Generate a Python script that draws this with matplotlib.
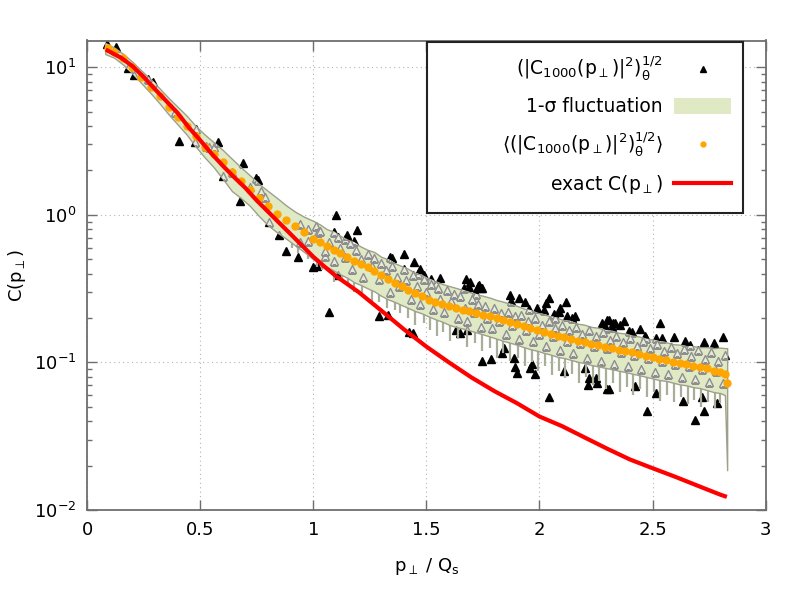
import matplotlib

matplotlib.use("Agg")
import matplotlib.pyplot as plt
import numpy as np
from matplotlib.lines import Line2D
from matplotlib.patches import Patch, Rectangle
from matplotlib.ticker import FormatStrFormatter, LogLocator, NullFormatter

# exact C(p_perp)
exact_x = [0.09, 0.15, 0.2, 0.25, 0.3, 0.35, 0.4, 0.45, 0.5, 0.55, 0.6, 0.65, 0.7, 0.75,
           0.8, 0.85, 0.9, 0.95, 1.0, 1.05, 1.1, 1.2, 1.3, 1.4, 1.5, 1.6, 1.7, 1.8, 1.9,
           2.0, 2.1, 2.2, 2.3, 2.4, 2.5, 2.6, 2.7, 2.8, 2.82]
exact_c = [13.0, 11.6, 10.2, 8.6, 7.1, 5.9, 4.9, 3.9, 3.2, 2.6, 2.15, 1.8, 1.52, 1.25,
           1.05, 0.88, 0.74, 0.62, 0.52, 0.445, 0.385, 0.30, 0.225, 0.168, 0.128, 0.1,
           0.079, 0.064, 0.053, 0.043, 0.037, 0.031, 0.026, 0.022, 0.0192, 0.0168, 0.0146,
           0.0127, 0.0124]

# mean over configurations
mean_x = [0.09, 0.12, 0.16, 0.2, 0.24, 0.28, 0.32, 0.36, 0.4, 0.44, 0.48, 0.52, 0.56, 0.6,
          0.64, 0.68, 0.72, 0.76, 0.8, 0.84, 0.88, 0.92, 0.96,
          1.00, 1.03, 1.06, 1.09, 1.12, 1.15, 1.18, 1.21, 1.24, 1.27, 1.30, 1.33, 1.36,
          1.39, 1.42, 1.45, 1.48, 1.51, 1.54, 1.57, 1.60, 1.63, 1.66, 1.69, 1.72, 1.75,
          1.78, 1.81, 1.84, 1.87, 1.90, 1.93, 1.96, 1.99, 2.02, 2.05, 2.08, 2.11, 2.14,
          2.17, 2.20, 2.23, 2.26, 2.29, 2.32, 2.35, 2.38, 2.41, 2.44, 2.47, 2.50, 2.53,
          2.56, 2.59, 2.62, 2.65, 2.68, 2.71, 2.74, 2.77, 2.80, 2.82, 2.83]
mean_c = [13.5, 12.8, 11.5, 10.0, 8.6, 7.4, 6.4, 5.4, 4.6, 4.0, 3.4, 2.9, 2.6, 2.3,
          1.95, 1.7, 1.48, 1.30, 1.15, 1.02, 0.92, 0.84, 0.76,
          0.690, 0.650, 0.615, 0.580, 0.548, 0.518, 0.485, 0.462, 0.440, 0.418, 0.390,
          0.368, 0.348, 0.330, 0.312, 0.296, 0.280, 0.266, 0.256, 0.247, 0.240, 0.233,
          0.227, 0.222, 0.216, 0.211, 0.205, 0.200, 0.195, 0.189, 0.183, 0.177, 0.171,
          0.166, 0.161, 0.157, 0.152, 0.148, 0.144, 0.140, 0.137, 0.134, 0.131, 0.128,
          0.125, 0.122, 0.119, 0.117, 0.114, 0.111, 0.109, 0.106, 0.104, 0.101, 0.099,
          0.097, 0.095, 0.093, 0.091, 0.088, 0.086, 0.084, 0.073]

# 1-sigma band
band_x = [0.08, 0.12, 0.16, 0.20, 0.24, 0.28, 0.32, 0.36, 0.40, 0.44, 0.48, 0.52, 0.56,
          0.60, 0.64, 0.68, 0.72, 0.76, 0.80, 0.84, 0.88, 0.92, 0.96,
          1.00, 1.03, 1.06, 1.09, 1.12, 1.15, 1.18, 1.21, 1.24, 1.27, 1.30, 1.33, 1.36,
          1.39, 1.42, 1.45, 1.48, 1.51, 1.54, 1.57, 1.60, 1.63, 1.66, 1.69, 1.72, 1.75,
          1.78, 1.81, 1.84, 1.87, 1.90, 1.93, 1.96, 1.99, 2.02, 2.05, 2.08, 2.11, 2.14,
          2.17, 2.20, 2.23, 2.26, 2.29, 2.32, 2.35, 2.38, 2.41, 2.44, 2.47, 2.50, 2.53,
          2.56, 2.59, 2.62, 2.65, 2.68, 2.71, 2.74, 2.77, 2.80, 2.82, 2.83]
band_hi = [14.6, 13.6, 12.3, 10.9, 9.5, 8.3, 7.2, 6.2, 5.4, 4.7, 4.0, 3.5, 3.1,
           2.75, 2.4, 2.1, 1.85, 1.62, 1.45, 1.30, 1.16, 1.05, 0.97,
           0.91, 0.86, 0.80, 0.77, 0.72, 0.68, 0.65, 0.61, 0.58, 0.56, 0.52, 0.50, 0.47,
           0.45, 0.43, 0.405, 0.39, 0.37, 0.355, 0.34, 0.33, 0.32, 0.31, 0.30, 0.29, 0.283,
           0.275, 0.265, 0.258, 0.25, 0.242, 0.232, 0.226, 0.217, 0.212, 0.205, 0.20, 0.193,
           0.19, 0.183, 0.18, 0.174, 0.172, 0.166, 0.164, 0.159, 0.157, 0.152, 0.15,
           0.145, 0.143, 0.139, 0.137, 0.133, 0.132, 0.129, 0.129, 0.127, 0.127, 0.125,
           0.126, 0.125, 0.125]
band_lo = [12.3, 11.6, 10.4, 9.1, 7.8, 6.7, 5.7, 4.8, 4.1, 3.5, 2.9, 2.45, 2.1,
           1.75, 1.45, 1.3, 1.15, 0.98, 0.85, 0.76, 0.69, 0.62, 0.56,
           0.50, 0.47, 0.445, 0.42, 0.395, 0.375, 0.35, 0.335, 0.318, 0.303, 0.283, 0.268,
           0.257, 0.245, 0.234, 0.223, 0.215, 0.205, 0.196, 0.189, 0.18, 0.174, 0.17,
           0.165, 0.16, 0.155, 0.15, 0.145, 0.14, 0.136, 0.132, 0.127, 0.123, 0.12, 0.116,
           0.113, 0.109, 0.107, 0.104, 0.101, 0.099, 0.096, 0.094, 0.092, 0.09, 0.088,
           0.086, 0.084, 0.082, 0.08, 0.078, 0.076, 0.075, 0.073, 0.071, 0.07, 0.068,
           0.067, 0.065, 0.063, 0.062, 0.06, 0.0186]

# downward spikes of the band's lower edge
spike_x = [0.905, 0.93, 0.975, 1.015, 1.04, 1.09, 1.125, 1.155, 1.178, 1.215, 1.259,
           1.29, 1.326, 1.36, 1.385, 1.42, 1.451, 1.49, 1.515, 1.547, 1.575, 1.606, 1.64,
           1.68, 1.715, 1.746, 1.78, 1.812, 1.84, 1.87, 1.905, 1.935, 1.965, 1.995, 2.025,
           2.055, 2.085, 2.115, 2.145, 2.175, 2.205, 2.235, 2.265, 2.295, 2.325, 2.355,
           2.385, 2.415, 2.445, 2.475, 2.505, 2.535, 2.565, 2.595, 2.625, 2.655, 2.685,
           2.715, 2.745, 2.775, 2.80]
spike_c = [0.60, 0.55, 0.50, 0.44, 0.42, 0.35, 0.35, 0.33, 0.30, 0.29, 0.26,
           0.255, 0.235, 0.225, 0.215, 0.20, 0.18, 0.185, 0.165, 0.15, 0.16, 0.14, 0.145,
           0.128, 0.135, 0.12, 0.125, 0.108, 0.115, 0.102, 0.108, 0.095, 0.10, 0.087, 0.095,
           0.082, 0.088, 0.078, 0.083, 0.072, 0.08, 0.07, 0.075, 0.066, 0.072, 0.063,
           0.068, 0.06, 0.066, 0.058, 0.063, 0.055, 0.06, 0.054, 0.058, 0.052, 0.056,
           0.05, 0.054, 0.049, 0.053]

# single configuration samples
sample_x = [0.088, 0.128, 0.18, 0.207, 0.27, 0.29, 0.39, 0.404, 0.475, 0.48, 0.525, 0.54,
            0.56, 0.578, 0.60, 0.64, 0.676, 0.691, 0.72, 0.747, 0.757, 0.77, 0.785, 0.806,
            0.85, 0.879, 0.93, 0.94, 0.94, 0.975, 0.975, 1.00, 1.01, 1.015, 1.02, 1.05,
            1.07, 1.09, 1.10, 1.107, 1.14, 1.148, 1.18, 1.195, 1.29, 1.33, 1.34, 1.35,
            1.40, 1.423, 1.44, 1.445, 1.465, 1.47, 1.49, 1.52, 1.56, 1.63, 1.65, 1.666,
            1.673, 1.68, 1.69, 1.695, 1.713, 1.72, 1.73, 1.732, 1.74, 1.747, 1.747, 1.786,
            1.835, 1.845, 1.869, 1.872, 1.886, 1.89, 1.90, 1.908, 1.938, 1.953, 1.96, 1.967,
            1.98, 1.99, 2.02, 2.03, 2.04, 2.04, 2.066, 2.07, 2.085, 2.092, 2.11, 2.119,
            2.122, 2.144, 2.158, 2.203, 2.213, 2.22, 2.25, 2.254, 2.276, 2.295, 2.298,
            2.30, 2.306, 2.306, 2.32, 2.327, 2.335, 2.357, 2.375, 2.394, 2.409, 2.423,
            2.443, 2.467, 2.472, 2.475, 2.516, 2.516, 2.533, 2.541, 2.593, 2.636, 2.644,
            2.666, 2.687, 2.717, 2.727, 2.728, 2.77, 2.783, 2.81,
            1.03, 1.05, 1.07, 1.09, 1.11, 1.12, 1.14, 1.16, 1.17, 1.19, 1.21, 1.22, 1.24,
            1.26, 1.27, 1.29, 1.30, 1.32, 1.34, 1.35, 1.37, 1.38, 1.40, 1.41, 1.43, 1.44,
            1.46, 1.47, 1.49, 1.50, 1.52, 1.53, 1.55, 1.56, 1.58, 1.59, 1.61, 1.62, 1.64,
            1.65, 1.67, 1.68, 1.70, 1.71, 1.73, 1.74, 1.76, 1.77, 1.79, 1.80, 1.82, 1.83,
            1.85, 1.86, 1.88, 1.89, 1.91, 1.92, 1.94, 1.95, 1.97, 1.98, 2.00, 2.01, 2.03,
            2.04, 2.06, 2.07, 2.09, 2.10, 2.12, 2.13, 2.15, 2.16, 2.18, 2.19, 2.21, 2.22,
            2.24, 2.25, 2.27, 2.28, 2.30, 2.31, 2.33, 2.34, 2.36, 2.37, 2.39, 2.40, 2.42,
            2.43, 2.45, 2.46, 2.48, 2.49, 2.51, 2.52, 2.54, 2.55, 2.57, 2.58, 2.60, 2.61,
            2.63, 2.64, 2.66, 2.67, 2.69, 2.70, 2.72, 2.73, 2.75, 2.76, 2.78, 2.79, 2.81,
            2.82]
sample_c = [14.4, 13.7, 9.9, 8.9, 8.4, 7.9, 5.0, 3.17, 3.1, 3.8, 2.92, 2.9,
            2.87, 3.12, 1.84, 1.95, 1.25, 2.24, 1.54, 1.79, 1.73, 1.45, 1.32, 0.90,
            0.73, 0.57, 0.52, 0.87, 0.66, 0.80, 0.67, 0.44, 0.84, 0.45, 0.77, 0.53,
            0.22, 0.77, 1.0, 0.39, 0.69, 0.73, 0.67, 0.79, 0.205, 0.21, 0.52, 0.51,
            0.54, 0.16, 0.158, 0.48, 0.40, 0.43, 0.39, 0.37, 0.375, 0.166, 0.158, 0.32,
            0.365, 0.166, 0.326, 0.352, 0.297, 0.29, 0.33, 0.334, 0.318, 0.318, 0.103, 0.105,
            0.116, 0.125, 0.286, 0.261, 0.107, 0.093, 0.085, 0.275, 0.258, 0.230, 0.092, 0.098,
            0.083, 0.233, 0.227, 0.254, 0.275, 0.058, 0.212, 0.201, 0.221, 0.235, 0.087, 0.255,
            0.205, 0.20, 0.205, 0.092, 0.070, 0.079, 0.079, 0.072, 0.185, 0.171, 0.194,
            0.066, 0.194, 0.066, 0.173, 0.185, 0.185, 0.178, 0.191, 0.164, 0.160, 0.069,
            0.168, 0.150, 0.146, 0.047, 0.146, 0.062, 0.185, 0.146, 0.148, 0.055, 0.139,
            0.131, 0.041, 0.058, 0.047, 0.137, 0.135, 0.053, 0.148,
            0.78, 0.57, 0.66, 0.49, 0.71, 0.60, 0.52, 0.64, 0.43, 0.58, 0.50, 0.38, 0.54,
            0.45, 0.51, 0.37, 0.47, 0.42, 0.30, 0.45, 0.38, 0.33, 0.43, 0.36, 0.27, 0.39,
            0.33, 0.25, 0.37, 0.30, 0.34, 0.23, 0.32, 0.27, 0.22, 0.31, 0.26, 0.29, 0.20,
            0.28, 0.235, 0.19, 0.27, 0.22, 0.25, 0.175, 0.24, 0.20, 0.17, 0.235, 0.19, 0.215,
            0.155, 0.22, 0.18, 0.205, 0.145, 0.21, 0.165, 0.19, 0.14, 0.20, 0.155, 0.18, 0.13,
            0.19, 0.15, 0.17, 0.122, 0.18, 0.14, 0.165, 0.115, 0.175, 0.135, 0.155, 0.108,
            0.165, 0.13, 0.15, 0.102, 0.16, 0.125, 0.143, 0.097, 0.152, 0.118, 0.137, 0.094,
            0.146, 0.112, 0.13, 0.09, 0.14, 0.107, 0.125, 0.086, 0.134, 0.103, 0.12, 0.083,
            0.128, 0.098, 0.115, 0.08, 0.124, 0.094, 0.11, 0.077, 0.121, 0.09, 0.106, 0.074,
            0.118, 0.087, 0.103, 0.072, 0.112]

BAND_FACE = "#dfeac5"
BAND_EDGE = "#9da08c"
AXIS_GRAY = "#6e6e6e"

plt.rcParams["font.family"] = ["DejaVu Sans"]
plt.rcParams["mathtext.default"] = "regular"

fig = plt.figure(figsize=(8, 6), dpi=100)
ax = fig.add_axes([0.109, 0.15, 0.848, 0.7825])

ax.plot(sample_x, sample_c, linestyle="none", marker="^", markersize=6,
        color="black", zorder=2)
# spikes hang from inside the band down to their minimum
ax.vlines(spike_x, spike_c, np.interp(spike_x, mean_x, mean_c), color="#a9ae98",
          linewidth=1.6, zorder=2.5)
band = ax.fill_between(band_x, band_lo, band_hi, facecolor=BAND_FACE,
                       edgecolor=BAND_EDGE, linewidth=1.0, zorder=3)
# samples seen through the band
inner, = ax.plot(sample_x, sample_c, linestyle="none", marker="^", markersize=6,
                 markerfacecolor="#e7ecda", markeredgecolor="#8e8e8e",
                 markeredgewidth=1.0, zorder=4)
inner.set_clip_path(band.get_paths()[0], ax.transData)

ax.plot(mean_x, mean_c, linestyle="none", marker="o", markersize=6,
        color="#ffa500", markeredgewidth=0, zorder=5)
ax.plot(exact_x, exact_c, color="#ff0000", linewidth=3, zorder=6)

ax.set_yscale("log")
ax.set_xlim(0, 3)
ax.set_ylim(1e-2, 15.2)
ax.set_xticks([0, 0.5, 1, 1.5, 2, 2.5, 3])
ax.xaxis.set_major_formatter(FormatStrFormatter("%g"))
ax.yaxis.set_major_locator(LogLocator(base=10, numticks=10))
ax.yaxis.set_minor_locator(LogLocator(base=10, subs=range(2, 10), numticks=20))
ax.yaxis.set_minor_formatter(NullFormatter())
ax.tick_params(which="both", direction="in", top=True, right=True, labelsize=13,
               color=AXIS_GRAY, width=1.0, pad=8)
ax.tick_params(which="major", length=7)
ax.tick_params(which="minor", length=3.5)
ax.grid(True, which="major", linestyle=(0, (1, 3)), color="#b4b4b4", linewidth=0.8)
for sp in ax.spines.values():
    sp.set_color(AXIS_GRAY)
    sp.set_linewidth(1.3)

ax.set_xlabel(r"$p_\perp$ / $Q_s$", fontsize=13, labelpad=12)
ax.set_ylabel(r"C($p_\perp$)", fontsize=13, labelpad=4)

handles = [
    Line2D([], [], linestyle="none", marker="^", markersize=5, color="black"),
    Patch(facecolor=BAND_FACE, edgecolor="none"),
    Line2D([], [], linestyle="none", marker="o", markersize=3.5, color="#ffa500"),
    Line2D([], [], color="#ff0000", linewidth=3),
]
labels = [
    r"$(|C_{1000}(p_\perp)|^2)_\theta^{1/2}$",
    r"1-σ fluctuation",
    r"$\langle(|C_{1000}(p_\perp)|^2)_\theta^{1/2}\rangle$",
    r"exact C($p_\perp$)",
]
ax.add_patch(Rectangle((427 / 800, 1 - 213 / 600), 316 / 800, 171 / 600,
                       transform=fig.transFigure, facecolor="white", edgecolor="#222222",
                       linewidth=1.5, zorder=9, clip_on=False))
leg = ax.legend(handles, labels, loc="upper right", bbox_to_anchor=(740 / 800, 1 - 46 / 600),
                bbox_transform=fig.transFigure, markerfirst=False, fontsize=13.5,
                handlelength=3.0, handleheight=0.9, labelspacing=0.75, borderpad=0,
                handletextpad=0.6, frameon=False)
leg.set_zorder(10)

fig.savefig("out.png", dpi=100)
